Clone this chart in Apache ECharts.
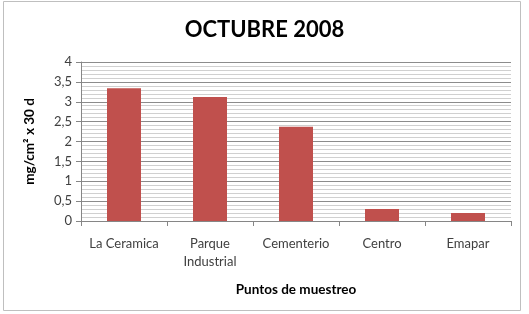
<!DOCTYPE html>
<html>
<head>
<meta charset="utf-8">
<script src="https://cdn.jsdelivr.net/npm/echarts@6/dist/echarts.min.js"></script>
<style>
  html, body { margin: 0; padding: 0; background: #fff; }
  #chart { width: 529px; height: 314px; }
</style>
</head>
<body>
<div id="chart"></div>
<script>
// datos
const puntos = ['La Ceramica', 'Parque\nIndustrial', 'Cementerio', 'Centro', 'Emapar'];
const valores = [3.34, 3.12, 2.37, 0.3, 0.2];
const titulo = 'OCTUBRE 2008';
const nombreY = 'mg/cm² x 30 d';
const nombreX = 'Puntos de muestreo';

const fuente = 'Lato, "Open Sans", sans-serif';
const chart = echarts.init(document.getElementById('chart'));

chart.setOption({
  animation: false,
  title: {
    text: titulo,
    left: 'center',
    top: 14,
    textStyle: { fontFamily: fuente, fontSize: 22, fontWeight: 'bold', color: '#000' }
  },
  graphic: [{
    type: 'rect',
    shape: { x: 3.5, y: 1.5, width: 517, height: 309 },
    style: { fill: 'none', stroke: '#bfbfbf', lineWidth: 1 },
    silent: true
  }],
  grid: { left: 81, right: 18, top: 62, bottom: 93 },
  xAxis: {
    type: 'category',
    data: puntos,
    name: nombreX,
    nameLocation: 'middle',
    nameGap: 62,
    nameTextStyle: { fontFamily: fuente, fontSize: 13.5, fontWeight: 'bold', color: '#000' },
    axisLine: { lineStyle: { color: '#868686' } },
    axisTick: { show: true, length: 5, lineStyle: { color: '#868686' } },
    axisLabel: { interval: 0, fontFamily: fuente, fontSize: 13, color: '#404040', margin: 14, lineHeight: 18 }
  },
  yAxis: {
    type: 'value',
    min: 0,
    max: 4,
    interval: 0.5,
    name: nombreY,
    nameLocation: 'middle',
    nameGap: 44,
    nameTextStyle: { fontFamily: fuente, fontSize: 13.5, fontWeight: 'bold', color: '#000' },
    axisLine: { show: true, lineStyle: { color: '#868686' } },
    axisTick: { show: true, length: 5, lineStyle: { color: '#868686' } },
    axisLabel: {
      fontFamily: fuente, fontSize: 13, color: '#404040', margin: 9,
      formatter: v => String(v).replace('.', ',')
    },
    splitLine: { show: true, lineStyle: { color: '#8c8c8c', width: 1 } },
    minorTick: { show: false, splitNumber: 5 },
    minorSplitLine: { show: true, lineStyle: { color: '#d0d0d0', width: 1 } }
  },
  series: [{
    type: 'bar',
    data: valores,
    barWidth: 34,
    itemStyle: { color: '#C0504D' }
  }]
});
</script>
</body>
</html>
